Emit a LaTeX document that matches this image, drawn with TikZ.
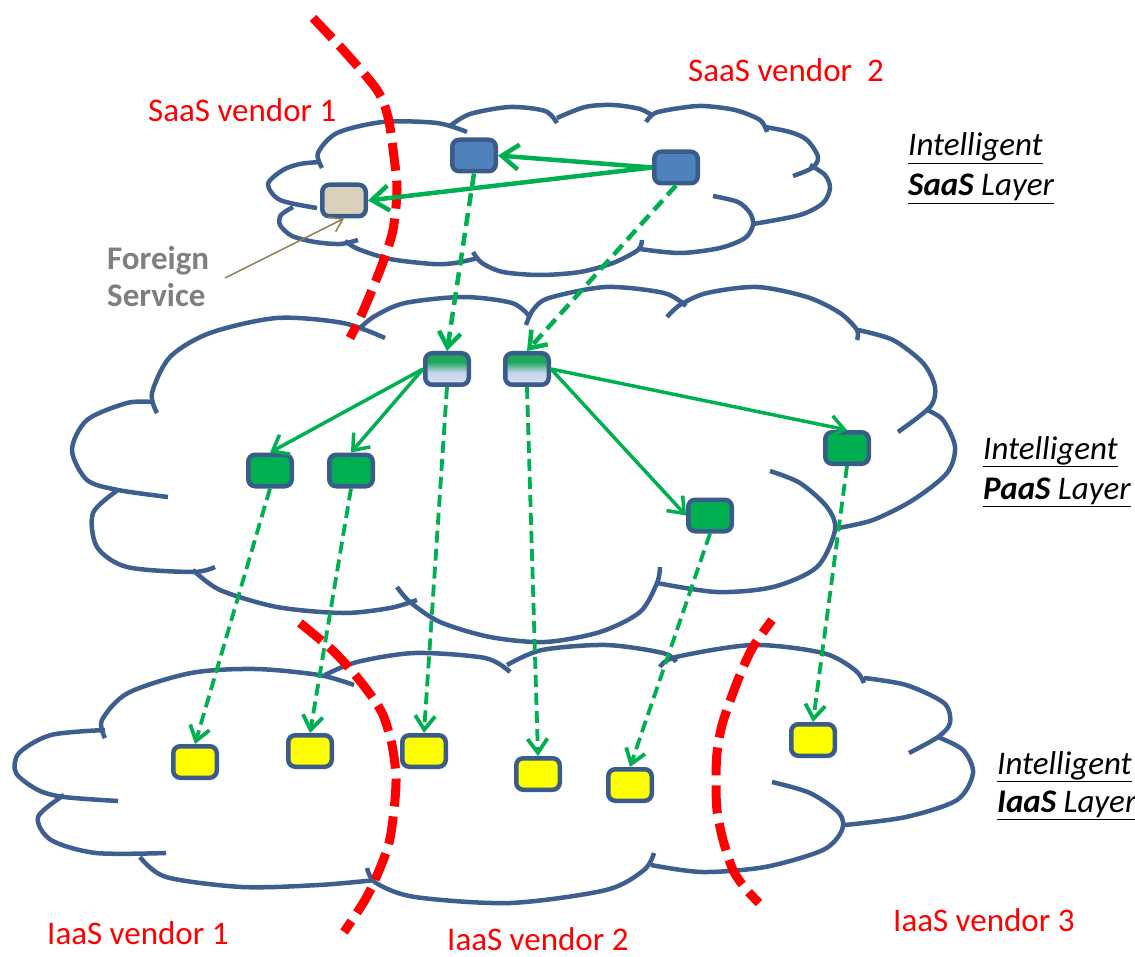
\documentclass[tikz,border=0pt]{standalone}
\usepackage{fontspec}
\setmainfont{Carlito}
\usetikzlibrary{arrows.meta}
\definecolor{cloudblue}{HTML}{3C5F8F}
\definecolor{boxborder}{HTML}{395C8A}
\definecolor{vred}{HTML}{FF0000}
\definecolor{agreen}{HTML}{00B050}
\definecolor{sblue}{HTML}{4F81BD}
\definecolor{yel}{HTML}{FFFF00}
\definecolor{beige}{HTML}{DAD0BC}
\definecolor{pointer}{HTML}{8C7D4E}
\definecolor{gtext}{HTML}{7F7F7F}
\definecolor{gradtop}{HTML}{1FA85C}
\definecolor{gradmid}{HTML}{C8D5F0}
\definecolor{gradbot}{HTML}{D8E1F4}
\pgfdeclareverticalshading{paasgrad}{100bp}{color(0bp)=(gradbot); color(25bp)=(gradbot); color(44bp)=(gradmid); color(61bp)=(gradtop); color(100bp)=(gradtop)}
\begin{document}
\begin{tikzpicture}[x=1pt,y=-1pt,
  lobe/.style={draw=cloudblue, line width=4.5pt},
  vline/.style={draw=vred, line width=9pt, dash pattern=on 28pt off 10pt},
  box/.style={draw=boxborder, line width=4.5pt, rounded corners=7pt, minimum width=43.5pt, minimum height=31.5pt, inner sep=0pt},
  sbox/.style={box, fill=sblue},
  fbox/.style={box, fill=beige},
  gbox/.style={box, fill=agreen},
  ybox/.style={box, fill=yel},
  pbox/.style={box, shading=paasgrad},
  sarrow/.style={draw=agreen, line width=4.5pt, -{Straight Barb[length=17pt,width=25pt]}},
  parrow/.style={draw=agreen, line width=3.5pt, -{Straight Barb[length=14pt,width=22pt]}},
  darrow/.style={draw=agreen, line width=4.5pt, dash pattern=on 13pt off 7pt, -{Straight Barb[length=15pt,width=22pt]}},
  ldarrow/.style={draw=agreen, line width=3.8pt, dash pattern=on 12pt off 6pt, -{Straight Barb[length=14pt,width=20pt]}},
  lab/.style={font=\fontsize{33}{39}\selectfont, inner sep=0pt, anchor=base west},
  blab/.style={font=\fontsize{33}{39}\selectfont\bfseries, inner sep=0pt, anchor=base west, text=gtext},
  vlab/.style={lab, text=vred},
  ptr/.style={draw=pointer, line width=1.5pt, -{Straight Barb[length=12pt,width=16pt]}}
]
\useasboundingbox (0,0) rectangle (1135,957);

% ---------- SaaS cloud ----------
\draw[lobe] plot[smooth] coordinates {(322,168) (318,153) (337,133) (383,122) (437,123) (467,132)};
\draw[lobe] plot[smooth] coordinates {(450,126) (470,114) (510,107) (545,111) (557,123)};
\draw[lobe] plot[smooth] coordinates {(557,118) (585,107) (613,105) (640,109) (653,116)};
\draw[lobe] plot[smooth] coordinates {(646,122) (655,113) (680,108) (703,106) (735,110) (760,120) (767,132)};
\draw[lobe] plot[smooth] coordinates {(765,127) (790,132) (807,140) (818,157) (812,168) (793,176)};
\draw[lobe] plot[smooth] coordinates {(810,165) (825,175) (830,188) (823,203) (800,215) (753,224)};
\draw[lobe] plot[smooth] coordinates {(713,196) (738,202) (750,213) (753,225) (745,238) (720,248) (680,253) (640,249)};
\draw[lobe] plot[smooth] coordinates {(642,240) (638,250) (613,263) (580,272) (540,275) (503,272) (482,263) (473,252)};
\draw[lobe] plot[smooth] coordinates {(478,258) (455,263) (433,264) (390,259) (358,249) (345,241)};
\draw[lobe] plot[smooth] coordinates {(293,207) (281,215) (280,225) (292,236) (315,242) (340,244) (358,240)};
\draw[lobe] plot[smooth] coordinates {(320,162) (300,164) (283,170) (268,184) (280,200) (317,208)};

% ---------- PaaS cloud ----------
\draw[lobe] plot[smooth] coordinates {(157,413) (152,393) (170,357) (210,333) (277,318) (343,323) (385,338)};
\draw[lobe] plot[smooth] coordinates {(360,328) (375,316) (405,303) (463,297) (512,303) (530,317)};
\draw[lobe] plot[smooth] coordinates {(526,325) (533,310) (549,298) (606,287) (664,293) (686,306)};
\draw[lobe] plot[smooth] coordinates {(667,317) (680,305) (707,293) (757,287) (807,297) (840,313) (857,330) (857,340)};
\draw[lobe] plot[smooth] coordinates {(858,330) (893,340) (923,363) (935,387) (930,407) (898,432)};
\draw[lobe] plot[smooth] coordinates {(927,410) (943,420) (955,447) (947,473) (913,500) (873,520) (838,528)};
\draw[lobe] plot[smooth] coordinates {(770,471) (800,483) (827,507) (835,530) (817,567) (773,587) (717,592) (657,583)};
\draw[lobe] plot[smooth] coordinates {(660,567) (657,583) (640,612) (600,632) (545,642) (490,637) (440,622) (410,602) (397,587)};
\draw[lobe] plot[smooth] coordinates {(193,570) (220,590) (277,607) (343,613) (390,608) (417,600)};
\draw[lobe] plot[smooth] coordinates {(118,490) (93,513) (97,547) (127,567) (193,572) (215,567)};
\draw[lobe] plot[smooth] coordinates {(152,402) (127,403) (87,420) (72,450) (87,480) (118,490) (168,497)};

% ---------- IaaS cloud ----------
\draw[lobe] plot[smooth] coordinates {(105,738) (102,720) (128,693) (191,673) (255,669) (319,675) (354,685)};
\draw[lobe] plot[smooth] coordinates {(325,675) (357,662) (415,653) (485,658) (510,672)};
\draw[lobe] plot[smooth] coordinates {(507,665) (542,650) (606,645) (663,653) (676,662)};
\draw[lobe] plot[smooth] coordinates {(660,667) (676,657) (753,645) (823,653) (855,670) (864,683)};
\draw[lobe] plot[smooth] coordinates {(864,678) (906,685) (944,703) (950,723) (938,737) (909,753)};
\draw[lobe] plot[smooth] coordinates {(938,737) (963,750) (973,773) (957,800) (906,817) (845,825)};
\draw[lobe] plot[smooth] coordinates {(772,782) (810,793) (839,813) (842,830) (823,850) (765,867) (702,872) (651,865)};
\draw[lobe] plot[smooth] coordinates {(654,853) (644,870) (606,890) (510,903) (415,897) (376,883) (367,868)};
\draw[lobe] plot[smooth] coordinates {(376,880) (319,885) (242,887) (166,877) (140,857)};
\draw[lobe] plot[smooth] coordinates {(64,795) (38,817) (51,840) (96,853) (166,853)};
\draw[lobe] plot[smooth] coordinates {(105,730) (51,735) (19,753) (16,773) (38,790) (64,797) (118,801)};

% ---------- vendor boundaries ----------
\draw[vline] plot[smooth] coordinates {(313,18) (345,52) (377,90) (388,117) (394,157) (397,190) (393,230) (383,262) (372,290) (360,318) (350,338)};
\draw[vline] plot[smooth] coordinates {(300,623) (330,648) (351,670) (370,694) (383,715) (392,745) (396,777) (394,810) (389,843) (378,873) (365,900) (344,932)};
\draw[vline, dash phase=12pt] plot[smooth] coordinates {(772,620) (753,647) (742,670) (733,693) (722,725) (717,753) (716,780) (717,810) (723,840) (733,870) (745,888) (759,903)};

% ---------- services ----------
\node[fbox] (fs) at (344,200.5) {};
\node[sbox] (s1) at (474,155.5) {};
\node[sbox] (s2) at (676,167.5) {};
\node[pbox] (p1) at (447,369) {};
\node[pbox] (p2) at (527,369) {};
\node[gbox] (g1) at (270,470.5) {};
\node[gbox] (g2) at (351,470.5) {};
\node[gbox] (g3) at (710,515.5) {};
\node[gbox] (g4) at (847,448) {};
\node[ybox] (y1) at (195,762) {};
\node[ybox] (y2) at (310,751) {};
\node[ybox] (y3) at (424,751) {};
\node[ybox] (y4) at (538,774) {};
\node[ybox] (y5) at (630,785) {};
\node[ybox] (y6) at (813,740) {};

% ---------- labels ----------
\node[vlab] (sv1) at (148,122) {SaaS vendor 1};
\node[vlab] (sv2) at (688,82) {SaaS vendor~ 2};
\node[blab] (ft1) at (107,270) {Foreign};
\node[blab] (ft2) at (107,307) {Service};
\node[lab] (sl1) at (908,156) {\itshape\underline{Intelligent}};
\node[lab] (sl2) at (908,196) {\itshape\underline{\textbf{SaaS} Layer}};
\node[lab] (pl1) at (983,459) {\itshape\underline{Intelligent}};
\node[lab] (pl2) at (983,499) {\itshape\underline{\textbf{PaaS} Layer}};
\node[lab] (il1) at (997,774) {\itshape\underline{Intelligent}};
\node[lab] (il2) at (997,812) {\itshape\underline{\textbf{IaaS} Layer}};
\node[vlab] (iv1) at (47,944) {IaaS vendor 1};
\node[vlab] (iv2) at (447,950) {IaaS vendor 2};
\node[vlab] (iv3) at (893,931) {IaaS vendor 3};

% ---------- connectors ----------
\coordinate (fsp) at (225,278);
\draw[ptr] (fsp) -- (fs.south);

\draw[sarrow] (s2.west) -- (s1.east);
\draw[sarrow] (s2.west) -- (fs.east);

\draw[darrow] (s1.south) -- (p1.north);
\draw[darrow] (s2.south) -- (p2.north);

\draw[parrow] (p1.west) -- (g1.north);
\draw[parrow] (p1.west) -- (g2.north);
\draw[parrow] (p2.east) -- (g3.west);
\draw[parrow] (p2.east) -- (g4.north);

\draw[ldarrow] (g1.south) -- (y1.north);
\draw[ldarrow] (g2.south) -- (y2.north);
\draw[ldarrow] (p1.south) -- (y3.north);
\draw[ldarrow] (p2.south) -- (y4.north);
\draw[ldarrow] (g3.south) -- (y5.north);
\draw[ldarrow] (g4.south) -- (y6.north);
\end{tikzpicture}
\end{document}
